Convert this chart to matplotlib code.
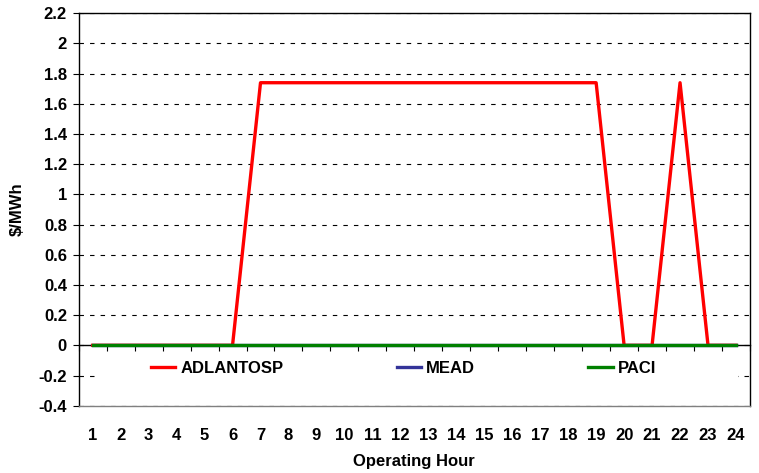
import matplotlib
matplotlib.use("Agg")
import matplotlib.pyplot as plt
from matplotlib.patches import Rectangle

plt.rcParams['font.family'] = ['Liberation Sans', 'DejaVu Sans']
plt.rcParams['font.weight'] = 'bold'

hours = list(range(1, 25))
adlantosp = [0, 0, 0, 0, 0, 0, 1.74, 1.74, 1.74, 1.74, 1.74, 1.74, 1.74, 1.74,
             1.74, 1.74, 1.74, 1.74, 1.74, 0, 0, 1.74, 0, 0]
mead = [0] * 24
paci = [0] * 24
y_ticks = [-0.4, -0.2, 0, 0.2, 0.4, 0.6, 0.8, 1, 1.2, 1.4, 1.6, 1.8, 2, 2.2]
y_labels = ['-0.4', '-0.2', '0', '0.2', '0.4', '0.6', '0.8', '1', '1.2', '1.4',
            '1.6', '1.8', '2', '2.2']

fig = plt.figure(figsize=(7.59, 4.73), dpi=100)
ax = fig.add_axes([0.1037, 0.1423, 0.8844, 0.8296])

ax.set_xlim(0.5, 24.5)
ax.set_ylim(-0.4, 2.2)

# gridlines
ax.set_yticks(y_ticks, labels=y_labels)
ax.yaxis.grid(True, color='black', linewidth=0.8, linestyle=(0, (4, 5.5)), zorder=0)
ax.set_axisbelow(True)

# white background behind the legend
ax.add_patch(Rectangle((0.027, 0.055), 0.955, 0.075, transform=ax.transAxes,
                       facecolor='white', edgecolor='none', zorder=1))

ax.plot(hours, adlantosp, color='#FF0000', linewidth=2.4, label='ADLANTOSP', zorder=3)
ax.plot(hours, mead, color='#333399', linewidth=2.4, label='MEAD', zorder=3)
ax.plot(hours, paci, color='#008000', linewidth=2.4, label='PACI', zorder=3)

for s in ['left', 'right', 'top']:
    ax.spines[s].set_color('black')
    ax.spines[s].set_linewidth(1.0)
ax.spines['bottom'].set_color('#808080')
ax.spines['bottom'].set_linewidth(1.0)

ax.set_xticks(hours, labels=[str(h) for h in hours])
ax.tick_params(axis='x', length=0, pad=16, labelsize=12)
ax.tick_params(axis='y', direction='out', length=4.5, width=0.8, pad=4, labelsize=12)

# category axis line at y=0
secax = ax.secondary_xaxis(0.4 / 2.6)
secax.set_xticks([h + 0.5 for h in range(0, 25)], labels=[])
secax.tick_params(direction='out', length=4.5, width=0.8, color='black')
secax.spines['bottom'].set_color('black')
secax.spines['bottom'].set_linewidth(1.0)

ax.set_xlabel('Operating Hour', fontsize=12, fontweight='bold', labelpad=8)
ax.set_ylabel('$/MWh', fontsize=12, fontweight='bold', labelpad=10)

leg = ax.legend(loc='center', bbox_to_anchor=(0.484, 0.096), ncol=3, frameon=False,
                fontsize=12, handlelength=1.45, handletextpad=0.3, columnspacing=6.8)

fig.savefig('out.png', dpi=100)
